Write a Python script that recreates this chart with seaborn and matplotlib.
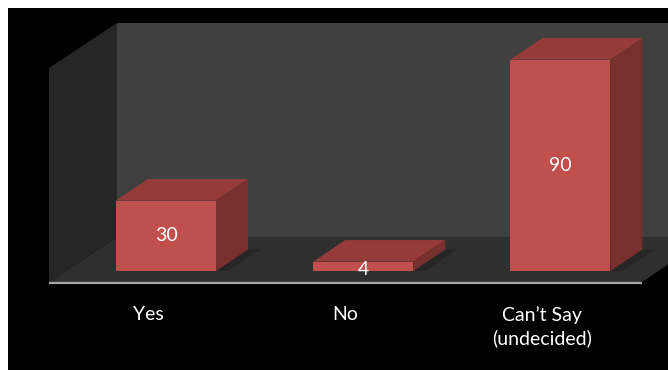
import matplotlib
matplotlib.use("Agg")
import matplotlib.pyplot as plt
import seaborn as sns
import pandas as pd
from matplotlib.patches import Polygon, Rectangle
from matplotlib.transforms import ScaledTranslation

categories = ["Yes", "No", "Can\u2019t Say\n(undecided)"]
values = [30, 4, 90]

W, H = 668, 370
DPI = 100
FRONT = "#C0504D"
TOP = "#953C3A"
SIDE = "#78302E"

sns.set_theme(style="white")
plt.rcParams["font.family"] = ["Lato", "DejaVu Sans"]

fig = plt.figure(figsize=(W / DPI, H / DPI), dpi=DPI, facecolor="white")


def px(x, y):
    """pixel (from top-left) -> figure fraction"""
    return (x / W, 1 - y / H)


# black background area
fig.patches.append(Rectangle(px(8, H), (W - 8) / W, (H - 8) / H,
                             transform=fig.transFigure, facecolor="black",
                             edgecolor="none", zorder=-10))

# axes: y=0 at pixel row 271, 2.35 px per unit; x: category 0 at px 166, 197.2 px per unit
y0_px = 271
ppu_y = 2.35
x0_px = 166
ppu_x = 197.2
ax = fig.add_axes([0, (H - y0_px) / H, 1, y0_px / H])
ax.patch.set_visible(False)

df = pd.DataFrame({"cat": categories, "val": values})
sns.barplot(data=df, x="cat", y="val", color=FRONT, saturation=1,
            width=100 / ppu_x, ax=ax, zorder=5, edgecolor="none")

ax.set_xlim(-x0_px / ppu_x, (W - x0_px) / ppu_x)
ax.set_ylim(0, y0_px / ppu_y)
for s in ax.spines.values():
    s.set_visible(False)
ax.set_yticks([])
ax.set_xlabel("")
ax.set_ylabel("")
ax.tick_params(axis="x", length=0, pad=25, colors="white", labelsize=14)
off = ScaledTranslation(-18 / DPI, 0, fig.dpi_scale_trans)
for lab in ax.get_xticklabels():
    lab.set_transform(lab.get_transform() + off)
    lab.set_multialignment("center")
    lab.set_linespacing(1.4)

# walls and floor (pixel geometry of the 3-D box)
tf = fig.transFigure
back_wall = Polygon([px(117, 23), px(W, 23), px(W, 237), px(117, 237)],
                    closed=True, transform=tf, facecolor="#404040", edgecolor="none", zorder=0)
side_wall = Polygon([px(49, 68), px(117, 23), px(117, 237), px(49, 282)],
                    closed=True, transform=tf, facecolor="#262626", edgecolor="none", zorder=0)
floor = Polygon([px(49, 282), px(642, 282), px(709, 237), px(117, 237)],
                closed=True, transform=tf, facecolor="#2F2F2F", edgecolor="none", zorder=1)
for p in (back_wall, side_wall, floor):
    p.set_clip_on(False)
    ax.add_patch(p)
ax.plot([49 / W, 642 / W], [1 - 282.5 / H, 1 - 282.5 / H], transform=tf,
        color="#A5A5A5", lw=1.6, clip_on=False, zorder=2, solid_capstyle="butt")

# 3-D faces of bars, built from the bars seaborn drew
DX, DY = 32, 21.5  # pixel depth offset
dxu, dyu = DX / ppu_x, DY / ppu_y
bars = [p for p in ax.patches if isinstance(p, Rectangle) and p.get_zorder() == 5]
for b, v in zip(bars, values):
    x0 = b.get_x()
    x1 = x0 + b.get_width()
    top = b.get_height()
    shadow = Polygon([(x1, 0), (x1 + dxu, dyu), (x1 + dxu + 12 / ppu_x, dyu),
                      (x1 + 12 / ppu_x, 0), (x0 + 10 / ppu_x, -2 / ppu_y), (x0 - 4 / ppu_x, -2 / ppu_y)],
                      closed=True, facecolor="#1E1E1E", edgecolor="none", alpha=0.5, zorder=3)
    ax.add_patch(shadow)
    topf = Polygon([(x0, top), (x1, top), (x1 + dxu, top + dyu), (x0 + dxu, top + dyu)],
                   closed=True, facecolor=TOP, edgecolor="none", zorder=4)
    side = Polygon([(x1, 0), (x1, top), (x1 + dxu, top + dyu), (x1 + dxu, dyu)],
                   closed=True, facecolor=SIDE, edgecolor="none", zorder=4)
    ax.add_patch(topf)
    ax.add_patch(side)
    cy = top / 2 if v > 10 else top / 2 - 1.2
    ax.text((x0 + x1) / 2, cy, str(v), ha="center", va="center",
            color="white", fontsize=14, zorder=6)

fig.savefig("out.png", dpi=DPI, facecolor="white")
